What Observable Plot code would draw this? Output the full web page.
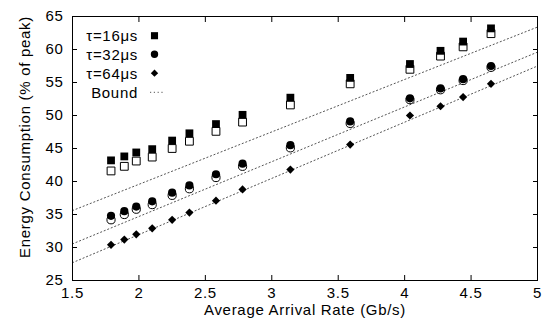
<!DOCTYPE html>
<html><head><meta charset="utf-8">
<script src="https://cdn.jsdelivr.net/npm/d3@7"></script>
<script src="https://cdn.jsdelivr.net/npm/@observablehq/plot@0.6"></script>
<style>
body{margin:0;background:#fff;}
#chart{position:relative;width:546px;height:327px;font-family:"Liberation Sans",Arial,Helvetica,sans-serif;}
#legend{position:absolute;left:0;top:0;}
</style></head><body><div id="chart"></div>
<script>
// Data
const rates = [1.79, 1.89, 1.98, 2.1, 2.25, 2.38, 2.58, 2.78, 3.14, 3.59, 4.04, 4.27, 4.44, 4.65];
const tau16Filled = [43.2, 43.8, 44.4, 44.9, 46.2, 47.3, 48.7, 50.1, 52.7, 55.7, 57.8, 59.8, 61.2, 63.2];
const tau16Hollow = [41.6, 42.3, 43.1, 43.7, 45.0, 46.1, 47.6, 49.0, 51.6, 54.8, 57.0, 59.0, 60.4, 62.4];
const tau32Filled = [34.8, 35.5, 36.2, 37.0, 38.3, 39.4, 41.1, 42.7, 45.5, 49.1, 52.6, 54.1, 55.5, 57.5];
const tau32Hollow = [34.2, 35.0, 35.8, 36.5, 37.9, 38.9, 40.6, 42.3, 45.1, 48.8, 52.4, 53.9, 55.3, 57.3];
const tau64Filled = [30.4, 31.2, 32.0, 32.9, 34.2, 35.3, 37.1, 38.8, 41.8, 45.6, 50.0, 51.4, 52.8, 54.8];
const boundX = [1.5, 5];
const bound16 = [35.6, 63.4];
const bound32 = [30.55, 59.6];
const bound64 = [27.7, 57.5];
const xTicks = [1.5, 2, 2.5, 3, 3.5, 4, 4.5, 5];
const yTicks = [25, 30, 35, 40, 45, 50, 55, 60, 65];
const legendLabels = ["τ=16μs", "τ=32μs", "τ=64μs", "Bound"];
const xLabel = "Average Arrival Rate (Gb/s)";
const yLabel = "Energy Consumption (% of peak)";

const FONT = '"Liberation Sans", Arial, Helvetica, sans-serif';
const pts = (ys) => rates.map((x, i) => ({x, y: ys[i]}));
const boundRows = [["b16", bound16], ["b32", bound32], ["b64", bound64]]
  .flatMap(([s, ys]) => boundX.map((x, i) => ({series: s, x, y: ys[i]})));

const chart = Plot.plot({
  width: 546, height: 327,
  marginLeft: 72, marginRight: 9, marginTop: 16, marginBottom: 47,
  style: {fontFamily: FONT, fontSize: "15px", letterSpacing: "0.7px", background: "white", color: "black"},
  x: {domain: [1.5, 5]},
  y: {domain: [25, 65]},
  marks: [
    Plot.line(boundRows, {x: "x", y: "y", z: "series", stroke: "#555", strokeWidth: 1, strokeDasharray: "1.2,2.6"}),
    Plot.dot(pts(tau16Hollow), {x: "x", y: "y", symbol: "square", r: 4.4, fill: "white", stroke: "black", strokeWidth: 1}),
    Plot.dot(pts(tau16Filled), {x: "x", y: "y", symbol: "square", r: 4.4, fill: "black"}),
    Plot.dot(pts(tau32Hollow), {x: "x", y: "y", symbol: "circle", r: 4.1, fill: "white", stroke: "black", strokeWidth: 1}),
    Plot.dot(pts(tau32Filled), {x: "x", y: "y", symbol: "circle", r: 4.1, fill: "black"}),
    Plot.dot(pts(tau64Filled), {x: "x", y: "y", symbol: "diamond2", r: 3.7, fill: "black"}),
    Plot.frame({stroke: "black", strokeWidth: 1}),
    Plot.axisX({anchor: "bottom", ticks: xTicks, tickSize: -5, tickPadding: 12, tickFormat: d => String(d), label: null, fontSize: 15}),
    Plot.axisX({anchor: "top", ticks: xTicks, tickSize: -5, tickFormat: () => "", label: null}),
    Plot.axisY({anchor: "left", ticks: yTicks, tickSize: -5, tickPadding: 14, tickFormat: d => String(d), label: null, fontSize: 15}),
    Plot.axisY({anchor: "right", ticks: yTicks, tickSize: -5, tickFormat: () => "", label: null}),
    Plot.text([xLabel], {text: d => d, frameAnchor: "bottom", dy: 34, fontSize: 15}),
    Plot.text([yLabel], {text: d => d, frameAnchor: "left", textAnchor: "middle", dx: -47, dy: -11.5, rotate: -90, fontSize: 15, ariaLabel: "ylabel"})
  ]
});
d3.select(chart).selectAll('g[aria-label="ylabel"] text').style("letter-spacing", "0px");
document.getElementById("chart").append(chart);

// Legend overlay (top-left inside the frame)
const leg = d3.select("#chart").append("svg").attr("id", "legend")
  .attr("width", 546).attr("height", 327)
  .style("font-family", FONT).style("font-size", "15px").style("letter-spacing", "0.7px");
const rowY = [35.7, 54.3, 73.2, 92.3];
const symbols = [d3.symbolSquare, d3.symbolCircle, d3.symbolDiamond2];
const sizes = [4.0, 3.7, 3.3];
legendLabels.forEach((lab, i) => {
  leg.append("text").attr("x", 138).attr("y", rowY[i]).attr("text-anchor", "end")
    .attr("dominant-baseline", "central").text(lab);
  if (i < 3) {
    leg.append("path").attr("transform", `translate(154.5,${rowY[i]})`)
      .attr("d", d3.symbol(symbols[i], sizes[i] * sizes[i] * Math.PI)()).attr("fill", "black");
  } else {
    leg.append("line").attr("x1", 150).attr("x2", 165).attr("y1", rowY[i]).attr("y2", rowY[i])
      .attr("stroke", "#555").attr("stroke-dasharray", "1.2,2.6");
  }
});
</script>
</body></html>
